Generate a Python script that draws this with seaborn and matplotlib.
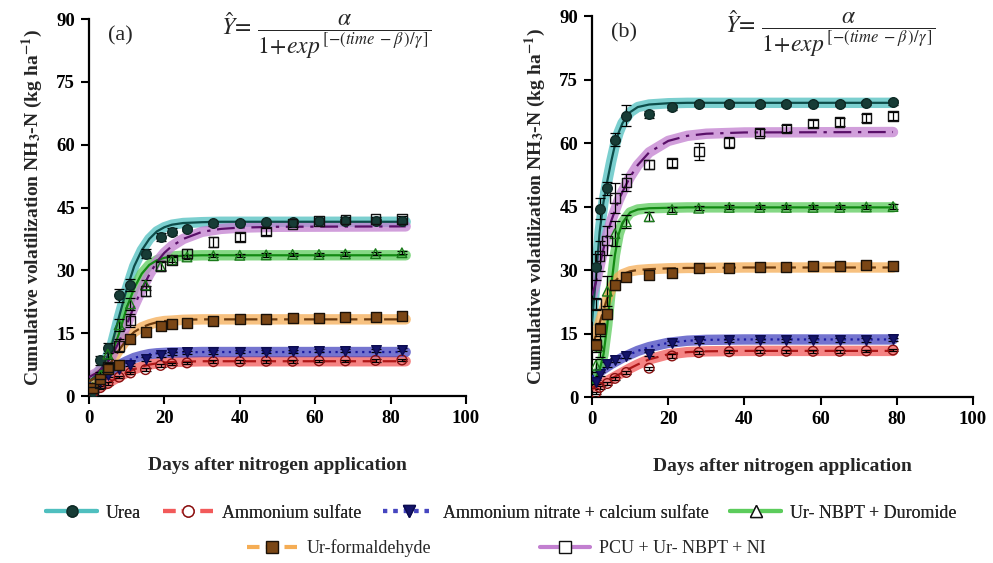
import numpy as np
import pandas as pd
import matplotlib
matplotlib.use("Agg")
import matplotlib.pyplot as plt
from matplotlib.lines import Line2D
import seaborn as sns

# ---------------- data ----------------
series_names = ["Urea", "Ammonium sulfate", "Ammonium nitrate + calcium sulfate",
                "Ur- NBPT + Duromide", "Ur-formaldehyde", "PCU + Ur- NBPT + NI"]

# panel (a) observations
days_a = [1, 3, 5, 8, 11, 15, 19, 22, 26, 33, 40, 47, 54, 61, 68, 76, 83]
urea_a = [1.0, 8.5, 11.5, 24.0, 26.5, 34.0, 38.0, 39.2, 39.8, 41.2, 41.4, 41.5, 41.6, 41.7, 41.8, 41.8, 41.8]
as_a = [0.8, 2.0, 3.0, 4.5, 5.5, 6.3, 7.3, 7.7, 7.9, 8.2, 8.2, 8.3, 8.3, 8.4, 8.4, 8.5, 8.6]
an_a = [2.0, 3.5, 5.0, 6.5, 7.5, 8.8, 9.8, 10.2, 10.4, 10.5, 10.6, 10.6, 10.7, 10.8, 10.8, 10.9, 11.1]
nbpt_a = [2.0, 5.0, 10.0, 17.0, 22.0, 26.5, 31.0, 32.5, 33.2, 33.5, 33.6, 33.7, 33.8, 33.8, 33.9, 34.0, 34.2]
uf_a = [2.0, 4.0, 6.5, 7.5, 13.5, 15.2, 16.8, 17.3, 17.5, 18.0, 18.3, 18.5, 18.6, 18.7, 18.8, 18.9, 19.1]
pcu_a = [1.0, 3.0, 7.0, 12.0, 18.0, 25.0, 31.0, 32.5, 34.0, 36.7, 38.0, 39.3, 41.0, 41.8, 42.1, 42.2, 42.3]
err_urea_a = [0.3, 1.0, 1.2, 1.5, 1.5, 1.0, 1.0, 0.8, 0.5, 0.5, 0.4, 0.4, 0.4, 0.4, 0.4, 0.4, 0.4]
err_as_a = [0.2, 0.3, 0.3, 0.3, 0.3, 0.3, 0.3, 0.3, 0.3, 0.3, 0.3, 0.3, 0.3, 0.3, 0.3, 0.3, 0.3]
err_an_a = [0.3, 0.4, 0.4, 0.4, 0.4, 0.4, 0.4, 0.4, 0.4, 0.4, 0.4, 0.4, 0.4, 0.4, 0.4, 0.4, 0.4]
err_nbpt_a = [0.3, 0.8, 1.2, 1.5, 1.5, 1.2, 1.0, 0.6, 0.5, 0.4, 0.4, 0.4, 0.4, 0.4, 0.4, 0.4, 0.4]
err_uf_a = [0.3, 0.5, 0.6, 0.6, 0.6, 0.5, 0.5, 0.4, 0.4, 0.4, 0.4, 0.4, 0.4, 0.4, 0.4, 0.4, 0.4]
err_pcu_a = [0.3, 0.6, 1.0, 1.5, 1.5, 1.2, 1.2, 1.0, 1.0, 1.2, 1.0, 0.8, 0.6, 0.6, 0.6, 0.6, 0.6]

# panel (a) fitted curves
cdays_a = [0, 2, 4, 6, 8, 10, 12, 14, 16, 18, 20, 22, 25, 30, 35, 40, 50, 84]
fit_urea_a = [3.5, 5.0, 7.5, 12.0, 19.0, 25.5, 31.0, 34.8, 37.5, 39.3, 40.3, 40.9, 41.3, 41.5, 41.6, 41.6, 41.6, 41.6]
fit_as_a = [1.0, 1.7, 2.6, 3.6, 4.6, 5.6, 6.4, 7.0, 7.5, 7.8, 8.0, 8.1, 8.2, 8.3, 8.3, 8.3, 8.3, 8.3]
fit_an_a = [3.3, 4.0, 5.0, 6.2, 7.4, 8.3, 9.1, 9.6, 10.0, 10.2, 10.3, 10.4, 10.4, 10.5, 10.5, 10.5, 10.5, 10.5]
fit_nbpt_a = [3.5, 4.5, 6.5, 10.0, 15.0, 21.0, 25.8, 29.2, 31.3, 32.4, 33.0, 33.3, 33.5, 33.6, 33.6, 33.6, 33.6, 33.6]
fit_uf_a = [3.5, 4.5, 6.0, 8.2, 11.0, 13.5, 15.3, 16.4, 17.1, 17.6, 17.9, 18.0, 18.2, 18.3, 18.3, 18.3, 18.3, 18.3]
fit_pcu_a = [4.5, 5.5, 7.0, 9.5, 13.0, 17.0, 21.5, 25.5, 29.0, 32.0, 34.2, 35.8, 37.5, 39.2, 39.9, 40.2, 40.4, 40.5]

# panel (b) observations
days_b = [1, 2, 4, 6, 9, 15, 21, 28, 36, 44, 51, 58, 65, 72, 79]
urea_b = [30.7, 44.5, 49.3, 60.8, 66.5, 66.8, 68.4, 69.2, 69.3, 69.3, 69.3, 69.3, 69.3, 69.4, 69.6]
as_b = [1.0, 2.3, 3.2, 4.4, 5.8, 6.8, 9.7, 10.5, 10.7, 10.8, 10.8, 10.8, 10.8, 10.9, 11.1]
an_b = [3.5, 5.5, 7.7, 8.7, 9.8, 10.2, 12.8, 13.2, 13.4, 13.4, 13.4, 13.5, 13.5, 13.5, 13.6]
nbpt_b = [7.5, 12.0, 25.0, 38.6, 41.4, 42.6, 44.3, 44.6, 44.8, 44.8, 44.8, 44.8, 44.8, 44.9, 45.0]
uf_b = [12.2, 16.0, 19.7, 26.4, 28.4, 28.8, 29.3, 30.4, 30.5, 30.6, 30.8, 30.9, 31.0, 31.1, 31.0]
pcu_b = [22.0, 33.3, 37.0, 47.0, 50.7, 54.9, 55.3, 58.0, 60.1, 62.4, 63.4, 64.6, 65.0, 65.9, 66.4]
err_urea_b = [3.0, 2.5, 1.5, 1.5, 2.5, 0.8, 0.6, 0.5, 0.5, 0.5, 0.5, 0.5, 0.5, 0.5, 0.5]
err_as_b = [0.3, 0.3, 0.3, 0.3, 0.3, 0.3, 0.4, 0.3, 0.3, 0.3, 0.3, 0.3, 0.3, 0.3, 0.3]
err_an_b = [0.5, 0.5, 0.5, 0.5, 0.5, 0.5, 0.5, 0.5, 0.4, 0.4, 0.4, 0.4, 0.4, 0.4, 0.4]
err_nbpt_b = [1.5, 2.5, 3.5, 3.0, 1.5, 1.0, 0.6, 0.5, 0.5, 0.5, 0.5, 0.5, 0.5, 0.5, 0.5]
err_uf_b = [1.5, 1.5, 1.2, 1.0, 0.8, 0.8, 0.6, 0.5, 0.5, 0.5, 0.5, 0.5, 0.5, 0.5, 0.5]
err_pcu_b = [1.5, 3.5, 3.5, 3.5, 2.0, 1.0, 1.0, 2.0, 1.3, 0.8, 0.8, 0.9, 0.9, 0.9, 0.9]

# panel (b) fitted curves
cdays_b = [0, 1, 2, 3, 4, 5, 6, 7, 8, 10, 12, 15, 20, 25, 30, 40, 79]
fit_urea_b = [18.0, 28.0, 39.0, 46.0, 51.0, 55.5, 59.5, 62.5, 64.7, 67.3, 68.5, 69.1, 69.4, 69.5, 69.5, 69.5, 69.5]
fit_as_b = [2.3, 2.6, 3.0, 3.4, 3.8, 4.3, 4.8, 5.3, 5.8, 6.8, 7.7, 8.9, 10.1, 10.6, 10.8, 10.9, 10.9]
fit_an_b = [4.8, 5.4, 6.0, 6.6, 7.2, 7.8, 8.3, 8.8, 9.3, 10.1, 10.9, 11.8, 12.8, 13.3, 13.5, 13.6, 13.6]
fit_nbpt_b = [3.0, 4.5, 6.5, 10.0, 17.0, 26.0, 33.5, 38.5, 41.2, 43.6, 44.3, 44.6, 44.7, 44.8, 44.8, 44.8, 44.8]
fit_uf_b = [12.0, 14.5, 17.5, 20.5, 23.3, 25.5, 27.2, 28.3, 29.0, 29.7, 30.0, 30.2, 30.4, 30.5, 30.5, 30.6, 30.6]
fit_pcu_b = [24.0, 27.0, 31.0, 35.0, 38.5, 41.5, 44.0, 46.5, 48.5, 52.0, 54.8, 57.8, 60.5, 61.7, 62.2, 62.5, 62.6]

x_ticks = [0, 20, 40, 60, 80, 100]
y_ticks = [0, 15, 30, 45, 60, 75, 90]

# ---------------- styles ----------------
band_colors = ["#4fbfbf", "#f25a5a", "#4646c0", "#5ccc5c", "#f5ad55", "#c27fd0"]
line_colors = ["#0d4d4a", "#b01818", "#1a1aa0", "#138a13", "#6b3a0e", "#5a1069"]
line_styles = ["-", (0, (6, 3)), (0, (1, 2)), "-", (0, (6, 3)), (0, (8, 3, 1.5, 3))]
markers = ["o", "o", "v", "^", "s", "s"]
m_face = ["#173c36", "none", "#14146a", "none", "#7a4615", "none"]
m_edge = ["#0f2a26", "#8a1010", "#0c0c50", "#1a7a1a", "#1a1108", "#111111"]

sns.set_theme(style="ticks")
plt.rcParams["font.family"] = ["Liberation Serif", "DejaVu Serif"]
plt.rcParams["mathtext.fontset"] = "stix"

fig = plt.figure(figsize=(9.93, 5.63), dpi=100)
ax_a = fig.add_axes([0.0896, 0.2966, 0.3797, 0.6696])
ax_b = fig.add_axes([0.5962, 0.2948, 0.3837, 0.6767])

panels = [
    (ax_a, "(a)", days_a, [urea_a, as_a, an_a, nbpt_a, uf_a, pcu_a],
     [err_urea_a, err_as_a, err_an_a, err_nbpt_a, err_uf_a, err_pcu_a],
     cdays_a, [fit_urea_a, fit_as_a, fit_an_a, fit_nbpt_a, fit_uf_a, fit_pcu_a]),
    (ax_b, "(b)", days_b, [urea_b, as_b, an_b, nbpt_b, uf_b, pcu_b],
     [err_urea_b, err_as_b, err_an_b, err_nbpt_b, err_uf_b, err_pcu_b],
     cdays_b, [fit_urea_b, fit_as_b, fit_an_b, fit_nbpt_b, fit_uf_b, fit_pcu_b]),
]

eq = r"$\hat{Y}\!=\,\dfrac{\alpha}{1\!+\!exp^{\,[-(time\ -\beta\,)/\gamma\,]}}$"

for ax, tag, days, obs, errs, cdays, fits in panels:
    # bands + fitted lines
    for i in range(6):
        df = pd.DataFrame({"day": cdays, "val": fits[i]})
        sns.lineplot(data=df, x="day", y="val", ax=ax, color=band_colors[i],
                     lw=7.5, alpha=0.75, solid_capstyle="round", zorder=2)
    for i in range(6):
        df = pd.DataFrame({"day": cdays, "val": fits[i]})
        sns.lineplot(data=df, x="day", y="val", ax=ax, color=line_colors[i],
                     lw=1.6, linestyle=line_styles[i], zorder=3)
    # observations
    for i in range(6):
        ax.errorbar(days, obs[i], yerr=errs[i], fmt="none", ecolor="black",
                    elinewidth=0.9, capsize=3.5, capthick=0.9, zorder=4)
        df = pd.DataFrame({"day": days, "val": obs[i]})
        sns.scatterplot(data=df, x="day", y="val", ax=ax, marker=markers[i],
                        s=48, facecolor=m_face[i], edgecolor=m_edge[i],
                        linewidth=1.0, zorder=5)
    ax.set_xlim(0, 100)
    ax.set_ylim(0, 90)
    ax.set_xticks(x_ticks)
    ax.set_yticks(y_ticks)
    ax.tick_params(axis="both", direction="out", length=6, width=1.5,
                   labelsize=13.5, colors="black", pad=4)
    for lab in ax.get_xticklabels() + ax.get_yticklabels():
        lab.set_fontweight("bold")
    for sp in ["left", "bottom"]:
        ax.spines[sp].set_linewidth(1.6)
        ax.spines[sp].set_color("black")
    ax.spines["top"].set_visible(False)
    ax.spines["right"].set_visible(False)
    ax.set_xlabel("Days after nitrogen application", fontsize=14,
                  fontweight="bold", labelpad=22)
    ax.set_ylabel(r"Cumulative volatilization NH$_\mathbf{3}$-N (kg ha$^\mathbf{-1}$)",
                  fontsize=14, fontweight="bold", labelpad=8)
    ax.text(0.05, 0.955, tag, transform=ax.transAxes, fontsize=16,
            ha="left", va="center")
    ax.text(0.35, 0.955, eq, transform=ax.transAxes, fontsize=17,
            ha="left", va="center")

# ---------------- legend ----------------
handles = []
for i in range(6):
    handles.append(Line2D([0], [0], color=band_colors[i], lw=3,
                          linestyle=["-", (0, (3, 1.5)), (0, (1, 1.5)), "-", (0, (3, 1.5)), "-"][i],
                          marker=markers[i], markersize=8,
                          markerfacecolor=m_face[i] if m_face[i] != "none" else "white",
                          markeredgecolor=m_edge[i] if i != 3 else "#111111",
                          markeredgewidth=1.0))

leg1 = fig.legend(handles[:4], series_names[:4], loc="center",
                  bbox_to_anchor=(0.505, 1 - 513 / 563), ncol=4, frameon=False,
                  fontsize=13, handlelength=2.8, handletextpad=0.5,
                  columnspacing=1.2)
fig.add_artist(leg1)
leg2 = fig.legend(handles[4:], series_names[4:], loc="center",
                  bbox_to_anchor=(0.51, 1 - 548 / 563), ncol=2, frameon=False,
                  fontsize=13, handlelength=2.8, handletextpad=0.5,
                  columnspacing=6.0)

fig.savefig("out.png", dpi=100)
